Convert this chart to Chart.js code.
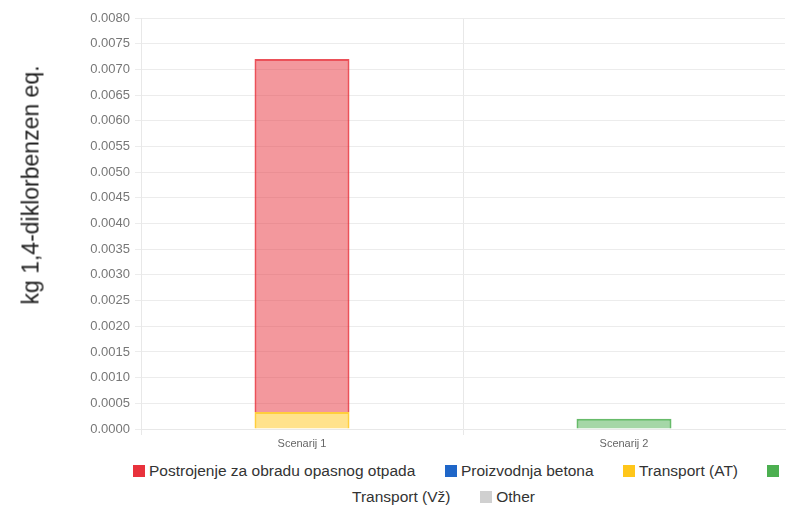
<!DOCTYPE html>
<html>
<head>
<meta charset="utf-8">
<script src="https://cdn.jsdelivr.net/npm/chart.js@4/dist/chart.umd.min.js"></script>
<style>
  html, body { margin: 0; padding: 0; background: #fff; }
  body { width: 808px; height: 513px; position: relative; overflow: hidden; font-family: "Liberation Sans", Arial, sans-serif; }
  #wrap { position: absolute; left: 0; top: 0; width: 808px; height: 455px; }
  #yTitle {
    position: absolute; left: 31px; top: 185px;
    transform: translate(-50%, -50%) rotate(-90deg);
    white-space: nowrap; font-size: 23px; color: #222;
  }
  #legend {
    position: absolute; left: 104px; top: 458px; width: 704px;
    text-align: center; font-size: 15.5px; line-height: 26px; color: #333;
  }
  #legend .box { display: inline-block; width: 12px; height: 12px; vertical-align: -1px; }
  #legend .txt { white-space: nowrap; margin-right: 25px; }
</style>
</head>
<body>
<div id="wrap"><canvas id="chart"></canvas></div>
<div id="yTitle">kg 1,4-diklorbenzen eq.</div>
<div id="legend"></div>
<script>
const categories = ['Scenarij 1', 'Scenarij 2'];

const postrojenje = [0.00687, null];
const betona = [null, null];
const transportAT = [0.00033, null];
const transportVz = [null, 0.0002];
const other = [null, null];

const yTicks = { min: 0, max: 0.008, step: 0.0005 };

const series = [
  { label: 'Postrojenje za obradu opasnog otpada', data: postrojenje, color: [232, 50, 60], stackOrder: 2 },
  { label: 'Proizvodnja betona', data: betona, color: [31, 102, 200], stackOrder: 3 },
  { label: 'Transport (AT)', data: transportAT, color: [255, 198, 26], stackOrder: 0 },
  { label: 'Transport (Vž)', data: transportVz, color: [76, 175, 80], stackOrder: 1 },
  { label: 'Other', data: other, color: [208, 208, 208], stackOrder: 4 },
];

const rgba = (c, a) => `rgba(${c[0]},${c[1]},${c[2]},${a})`;

// bottom of the stack first
const datasets = series
  .slice()
  .sort((a, b) => a.stackOrder - b.stackOrder)
  .map((s) => ({
    label: s.label,
    data: s.data,
    backgroundColor: rgba(s.color, 0.5),
    borderColor: rgba(s.color, 0.85),
    borderWidth: 2,
    categoryPercentage: 1,
    barPercentage: 0.295,
  }));

new Chart(document.getElementById('chart'), {
  type: 'bar',
  data: { labels: categories, datasets },
  options: {
    responsive: true,
    maintainAspectRatio: false,
    animation: false,
    layout: { padding: { top: 18, right: 23, left: 0, bottom: 0 } },
    plugins: {
      legend: { display: false },
      tooltip: { enabled: false },
    },
    scales: {
      x: {
        stacked: true,
        afterFit: (scale) => { scale.height = 26; },
        grid: {
          offset: true,
          // no line on the far right edge
          color: (ctx) => (ctx.type === 'scale' ? 'rgba(0,0,0,0)' : '#e8e8e8'),
          tickLength: 6,
        },
        border: { color: '#e8e8e8' },
        ticks: { color: '#666', font: { size: 11, family: 'Liberation Sans, Arial' }, padding: 2 },
      },
      y: {
        stacked: true,
        min: yTicks.min,
        max: yTicks.max,
        afterFit: (scale) => { scale.width = 141; },
        grid: { color: '#ececec', tickLength: 6 },
        border: { color: '#e8e8e8' },
        ticks: {
          stepSize: yTicks.step,
          color: '#777',
          padding: 5,
          font: { size: 13, family: 'Liberation Sans, Arial' },
          callback: (v) => v.toFixed(4),
        },
      },
    },
  },
});

document.getElementById('legend').innerHTML = series
  .map((s) => `<span class="box" style="background:${rgba(s.color, 1)}"></span> <span class="txt">${s.label}</span>`)
  .join(' ');
</script>
</body>
</html>
